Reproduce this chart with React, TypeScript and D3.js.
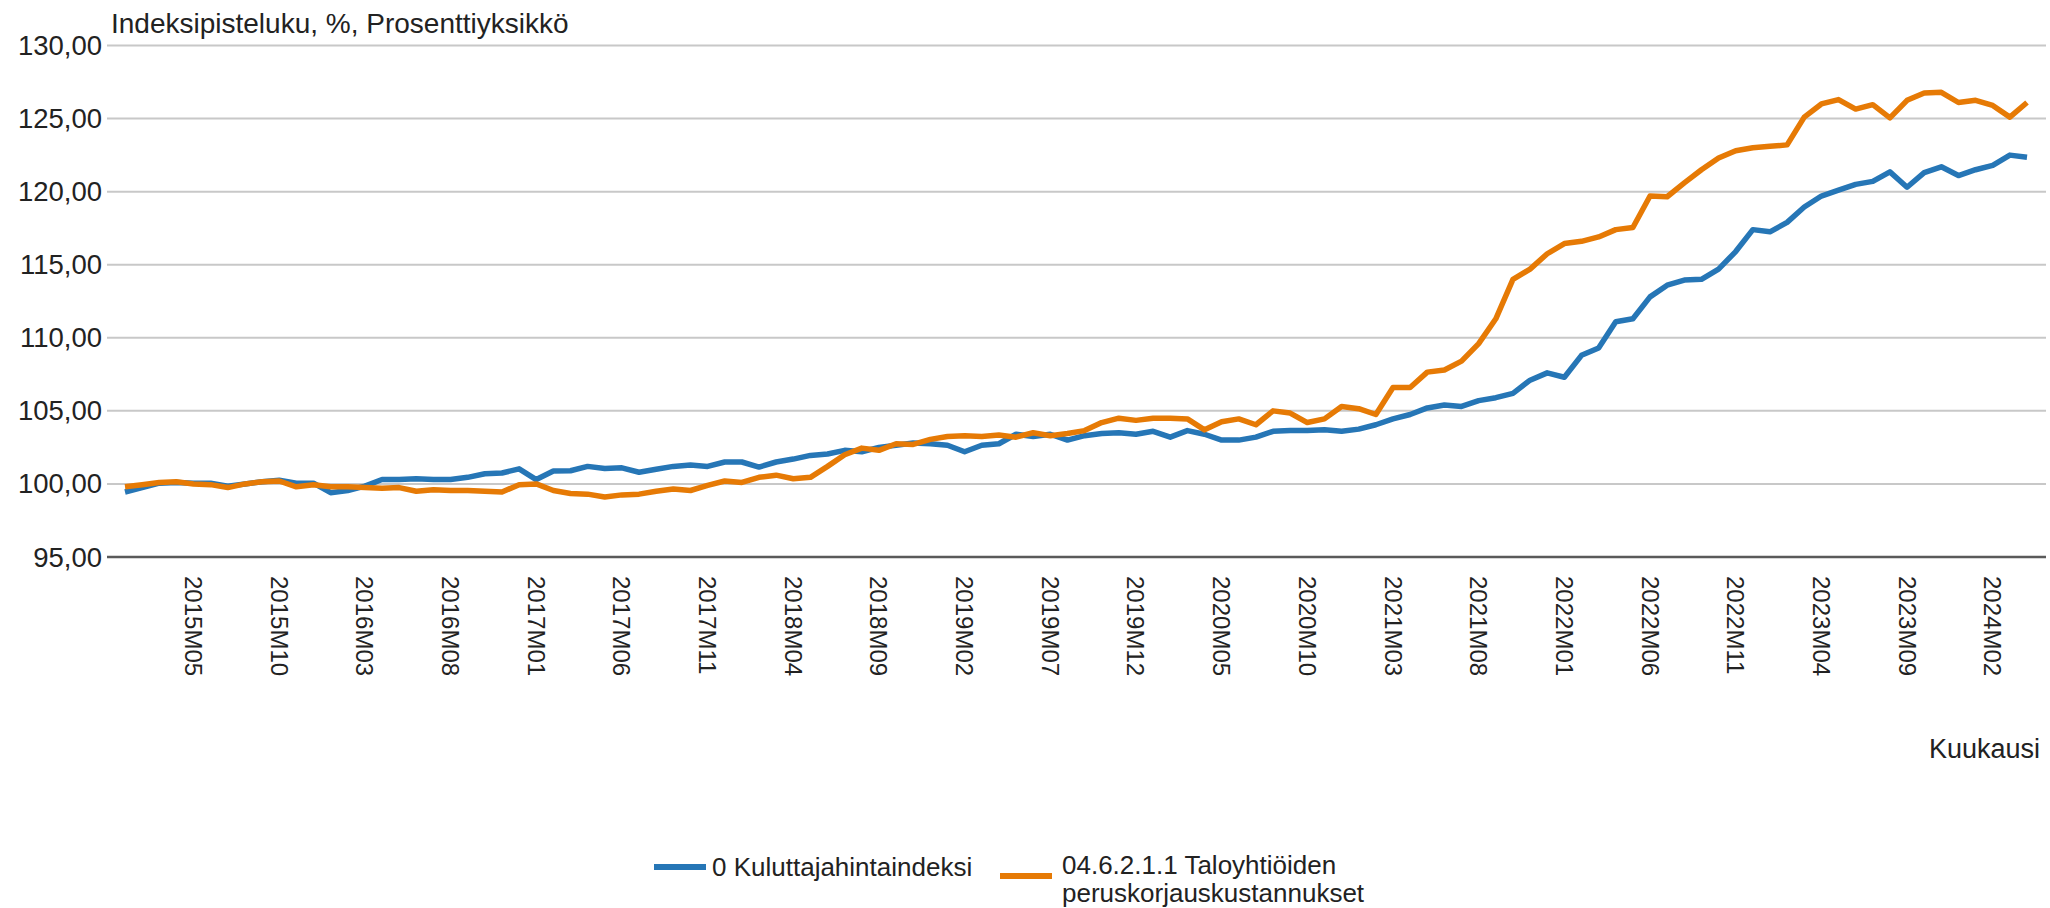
import React, { useEffect, useRef } from 'react';
import * as d3 from 'd3';

// months 2015M01 .. 2024M04
const months: string[] = [];
for (let y = 2015; y <= 2024; y++) {
  for (let m = 1; m <= 12; m++) {
    if (y === 2024 && m > 4) break;
    months.push(y + 'M' + (m < 10 ? '0' + m : m));
  }
}

const tickLabels = ['2015M05', '2015M10', '2016M03', '2016M08', '2017M01', '2017M06', '2017M11', '2018M04', '2018M09', '2019M02', '2019M07', '2019M12', '2020M05', '2020M10', '2021M03', '2021M08', '2022M01', '2022M06', '2022M11', '2023M04', '2023M09', '2024M02'];
const yTicks = [95, 100, 105, 110, 115, 120, 125, 130];

const kuluttajahintaindeksi = [
  99.45, 99.75, 100.05, 100.1, 100.05, 100.05, 99.85, 100.0, 100.15, 100.25, 100.05, 100.05,
  99.4, 99.55, 99.85, 100.3, 100.3, 100.35, 100.3, 100.3, 100.45, 100.7, 100.75, 101.03,
  100.3, 100.88, 100.9, 101.2, 101.05, 101.1, 100.8, 101.0, 101.2, 101.3, 101.2, 101.5,
  101.5, 101.15, 101.5, 101.7, 101.95, 102.05, 102.3, 102.2, 102.5, 102.65, 102.8, 102.75,
  102.65, 102.2, 102.65, 102.75, 103.4, 103.25, 103.4, 103.0, 103.3, 103.45, 103.5, 103.4,
  103.6, 103.2, 103.65, 103.4, 103.0, 103.0, 103.2, 103.6, 103.65, 103.65, 103.7, 103.6,
  103.75, 104.05, 104.45, 104.75, 105.2, 105.4, 105.3, 105.7, 105.9, 106.2, 107.1, 107.6,
  107.3, 108.8, 109.3, 111.1, 111.3, 112.8, 113.6, 113.95, 114.0, 114.7, 115.9, 117.4,
  117.25, 117.9, 118.95, 119.7, 120.1, 120.5, 120.7, 121.35, 120.3, 121.3, 121.7, 121.1,
  121.5, 121.8, 122.5, 122.35
];

const peruskorjaus = [
  99.8, 99.95, 100.1, 100.15, 100.0, 99.95, 99.75, 100.0, 100.15, 100.2, 99.8, 99.95,
  99.8, 99.8, 99.75, 99.7, 99.75, 99.5, 99.6, 99.55, 99.55, 99.5, 99.45, 99.95,
  100.0, 99.55, 99.35, 99.3, 99.1, 99.25, 99.3, 99.5, 99.65, 99.55, 99.9, 100.2,
  100.1, 100.45, 100.6, 100.35, 100.45, 101.2, 102.0, 102.45, 102.3, 102.75, 102.7, 103.05,
  103.25, 103.3, 103.25, 103.35, 103.2, 103.5, 103.3, 103.45, 103.65, 104.2, 104.5, 104.35,
  104.5, 104.5, 104.45, 103.7, 104.25, 104.45, 104.05, 105.0, 104.85, 104.2, 104.45, 105.3,
  105.15, 104.75, 106.6, 106.6, 107.65, 107.8, 108.4, 109.6, 111.3, 114.0, 114.7, 115.75,
  116.45, 116.6, 116.9, 117.4, 117.55, 119.7, 119.65, 120.6, 121.5, 122.3, 122.8, 123.0,
  123.1, 123.2, 125.1, 126.0, 126.3, 125.65, 125.95, 125.05, 126.25, 126.75, 126.8, 126.1,
  126.25, 125.9, 125.1, 126.1
];

const seriesNames = ['0 Kuluttajahintaindeksi', '04.6.2.1.1 Taloyhtiöiden', 'peruskorjauskustannukset'];

const BLUE = '#2676b6';
const ORANGE = '#e67a05';
const FONT = '"Liberation Sans", Arial, sans-serif';

export default function App() {
  const ref = useRef<SVGSVGElement>(null);

  useEffect(() => {
    const svg = d3.select(ref.current);
    svg.selectAll('*').remove();

    const left = 107, right = 2046, top = 45.5, bottom = 557;

    const x = d3.scalePoint<string>().domain(months).range([125, 2027]);
    const y = d3.scaleLinear().domain([95, 130]).range([bottom, top]);

    // grid
    svg.append('g')
      .selectAll('line')
      .data(yTicks.filter(d => d !== 95))
      .enter()
      .append('line')
      .attr('x1', left)
      .attr('x2', right)
      .attr('y1', d => y(d))
      .attr('y2', d => y(d))
      .attr('stroke', '#c8c8c8')
      .attr('stroke-width', 2);

    // axis line
    svg.append('line')
      .attr('x1', left).attr('x2', right)
      .attr('y1', y(95)).attr('y2', y(95))
      .attr('stroke', '#5a5a5a').attr('stroke-width', 2.5);

    // y labels
    svg.append('g')
      .selectAll('text')
      .data(yTicks)
      .enter()
      .append('text')
      .attr('x', 102)
      .attr('y', d => y(d))
      .attr('text-anchor', 'end')
      .attr('dominant-baseline', 'central')
      .style('font-family', FONT)
      .style('font-size', '27.5px')
      .attr('fill', '#222')
      .text(d => d.toFixed(2).replace('.', ','));

    // x labels
    svg.append('g')
      .selectAll('text')
      .data(tickLabels)
      .enter()
      .append('text')
      .attr('transform', d => `translate(${x(d)},576) rotate(90)`)
      .attr('dominant-baseline', 'central')
      .style('font-family', FONT)
      .style('font-size', '24px')
      .attr('fill', '#222')
      .text(d => d);

    // title & axis name
    svg.append('text')
      .attr('x', 111).attr('y', 33)
      .style('font-family', FONT).style('font-size', '28px')
      .attr('fill', '#222')
      .text('Indeksipisteluku, %, Prosenttiyksikkö');
    svg.append('text')
      .attr('x', 2040).attr('y', 758)
      .attr('text-anchor', 'end')
      .style('font-family', FONT).style('font-size', '27px')
      .attr('fill', '#222')
      .text('Kuukausi');

    const line = d3.line<number>()
      .x((d, i) => x(months[i]) as number)
      .y(d => y(d));

    svg.append('path')
      .datum(kuluttajahintaindeksi)
      .attr('fill', 'none')
      .attr('stroke', BLUE)
      .attr('stroke-width', 5.5)
      .attr('stroke-linejoin', 'round')
      .attr('d', line);
    svg.append('path')
      .datum(peruskorjaus)
      .attr('fill', 'none')
      .attr('stroke', ORANGE)
      .attr('stroke-width', 5.5)
      .attr('stroke-linejoin', 'round')
      .attr('d', line);

    // legend
    const lg = svg.append('g');
    lg.append('line').attr('x1', 654).attr('x2', 706).attr('y1', 867).attr('y2', 867)
      .attr('stroke', BLUE).attr('stroke-width', 6);
    lg.append('text').attr('x', 712).attr('y', 867).attr('dominant-baseline', 'central')
      .style('font-family', FONT).style('font-size', '26px').attr('fill', '#222')
      .text(seriesNames[0]);
    lg.append('line').attr('x1', 1000).attr('x2', 1052).attr('y1', 876).attr('y2', 876)
      .attr('stroke', ORANGE).attr('stroke-width', 6);
    lg.append('text').attr('x', 1062).attr('y', 865).attr('dominant-baseline', 'central')
      .style('font-family', FONT).style('font-size', '26px').attr('fill', '#222')
      .text(seriesNames[1]);
    lg.append('text').attr('x', 1062).attr('y', 893).attr('dominant-baseline', 'central')
      .style('font-family', FONT).style('font-size', '26px').attr('fill', '#222')
      .text(seriesNames[2]);
  }, []);

  return (
    <div style={{ position: 'absolute', left: 0, top: 0 }}>
      <svg ref={ref} width={2050} height={908} style={{ display: 'block', background: '#fff' }} />
    </div>
  );
}
